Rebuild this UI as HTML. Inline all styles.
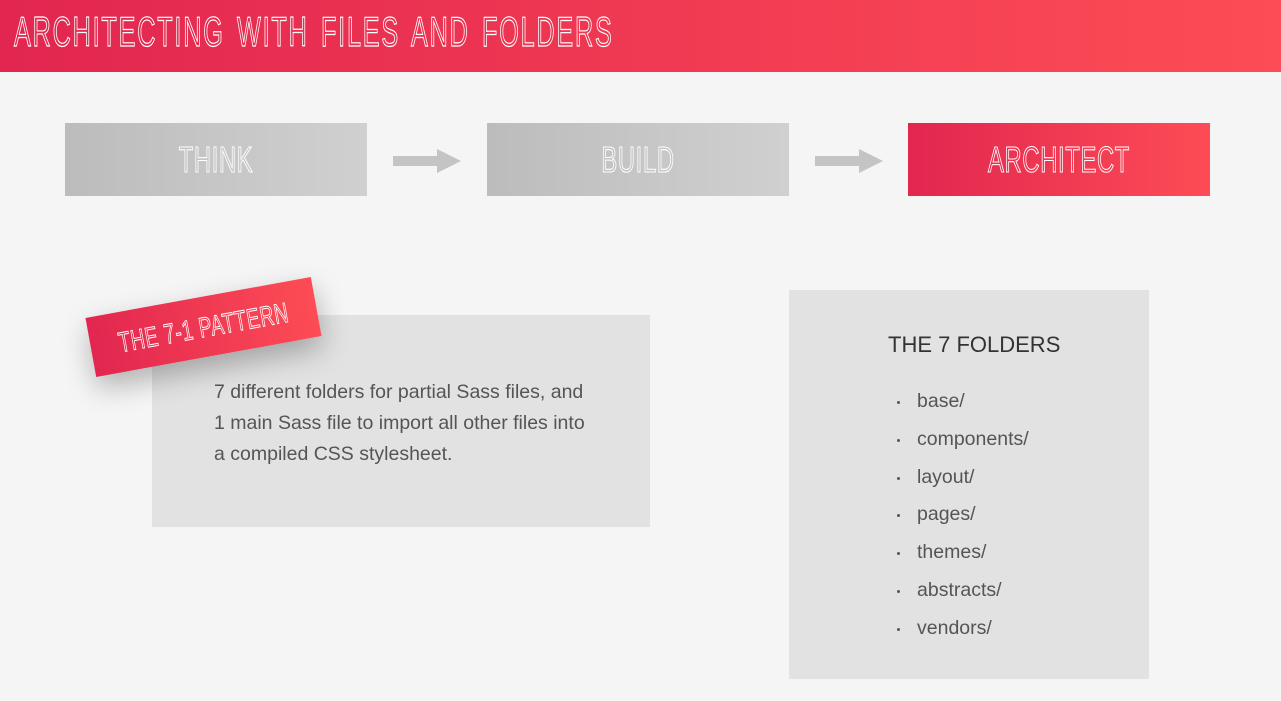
<!DOCTYPE html>
<html><head><style>
*{margin:0;padding:0;box-sizing:border-box}
body{width:1281px;height:701px;background:#f5f5f5;position:relative;overflow:hidden;font-family:"Liberation Sans",sans-serif}
.hdr{position:absolute;left:0;top:0;width:1281px;height:72px;background:linear-gradient(90deg,#e22650,#fd4c55)}
.out{font-family:"Liberation Sans",sans-serif;color:transparent;-webkit-text-stroke:1.2px #fff;white-space:nowrap;position:absolute}
.box{position:absolute;top:123px;width:302px;height:73px;background:linear-gradient(90deg,#bcbcbc,#d0d0d0)}
.box span{position:absolute;left:0;right:0;top:16px;text-align:center;font-size:36px;color:transparent;-webkit-text-stroke:1.1px #fff;transform:scaleX(0.66);white-space:nowrap;letter-spacing:1px}
.arr{position:absolute;top:149px}
.txt{position:absolute;left:152px;top:315px;width:498px;height:212px;background:#e2e2e2}
.txt p{position:absolute;left:62px;top:62px;font-size:19.5px;line-height:31px;color:#555;white-space:nowrap}
.rb{position:absolute;left:89px;top:297px;width:229px;height:60px;background:linear-gradient(90deg,#e22650,#fd4c55);transform:rotate(-10.3deg);box-shadow:0 12px 28px rgba(0,0,0,.28)}
.rb span{position:absolute;left:-40px;right:-40px;top:15px;text-align:center;font-size:28px;color:transparent;-webkit-text-stroke:1px #fff;transform:scaleX(0.68);white-space:nowrap;letter-spacing:1px}
.fold{position:absolute;left:789px;top:290px;width:360px;height:389px;background:#e2e2e2}
.fold h3{position:absolute;left:99px;top:42px;font-size:22px;font-weight:normal;color:#333}
.fold ul{position:absolute;left:108px;top:100px;list-style:none}
.fold li{font-size:19.5px;color:#555;height:37.8px;position:relative;padding-left:20px}
.fold li:before{content:"";position:absolute;left:0;top:11px;width:3px;height:3px;background:#555;border-radius:50%}
</style></head><body>
<div class="hdr"><div class="out" style="left:14px;top:8px;font-size:42px;letter-spacing:3px;word-spacing:6px;transform:scaleX(0.6);transform-origin:left;">ARCHITECTING WITH FILES AND FOLDERS</div></div>
<div class="box" style="left:65px"><span>THINK</span></div>
<svg class="arr" style="left:393px" width="68" height="24"><path d="M0 7H44V0L68 12L44 24V17H0Z" fill="#c4c4c4"/></svg>
<div class="box" style="left:487px"><span>BUILD</span></div>
<svg class="arr" style="left:815px" width="68" height="24"><path d="M0 7H44V0L68 12L44 24V17H0Z" fill="#c4c4c4"/></svg>
<div class="box" style="left:908px;background:linear-gradient(90deg,#e22650,#fd4c55)"><span>ARCHITECT</span></div>
<div class="txt"><p>7 different folders for partial Sass files, and<br>1 main Sass file to import all other files into<br>a compiled CSS stylesheet.</p></div>
<div class="rb"><span>THE 7-1 PATTERN</span></div>
<div class="fold"><h3>THE 7 FOLDERS</h3><ul>
<li>base/</li><li>components/</li><li>layout/</li><li>pages/</li><li>themes/</li><li>abstracts/</li><li>vendors/</li></ul></div>
</body></html>
